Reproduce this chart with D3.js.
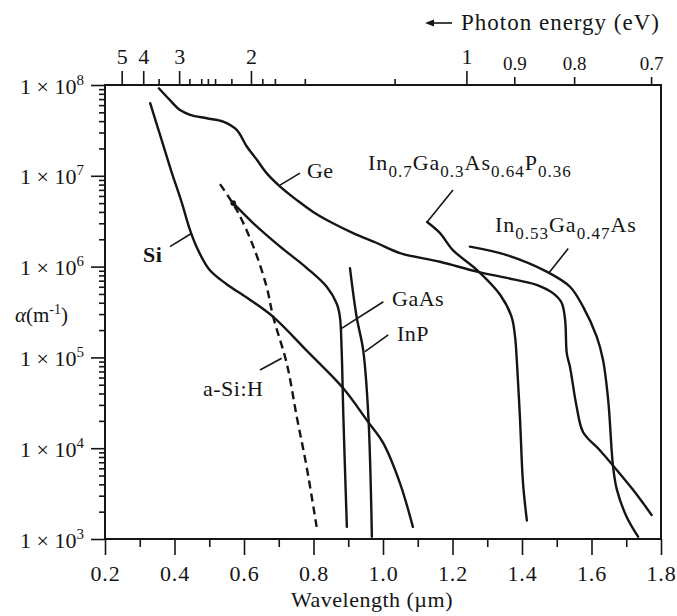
<!DOCTYPE html>
<html><head><meta charset="utf-8">
<script src="https://cdn.jsdelivr.net/npm/d3@7"></script>
<style>
html,body{margin:0;padding:0;background:#fff;}
svg{display:block;}
text{font-family:"Liberation Serif","Times New Roman",serif;fill:#151515;}
</style></head><body>
<svg id="chart" width="677" height="616"></svg>
<script>
// ---------- data ----------
const wavelengthTicks = [0.2,0.4,0.6,0.8,1.0,1.2,1.4,1.6,1.8];
const wavelengthMinorTicks = [0.3,0.5,0.7,0.9,1.1,1.3,1.5,1.7];
const alphaTicks = [1e3,1e4,1e5,1e6,1e7,1e8];
const alphaExponents = [3,4,5,6,7,8];
const energyTicks = [5,4,3,2,1];
const energyTicksSmall = [0.9,0.8,0.7];
const energyMinorTicks = [3.5,2.8,2.6,2.5,2.4,2.2,1.9,1.8,1.6,1.2];

const siLambda = [0.33,0.36,0.39,0.42,0.445,0.465,0.50,0.55,0.61,0.684,0.784,0.885,0.957,1.0,1.049,1.086];
const siAlpha  = [6.3e7,2.7e7,1.15e7,5.2e6,2.5e6,1.6e6,9.3e5,6.4e5,4.5e5,2.8e5,1.15e5,4.6e4,1.95e4,1.15e4,4.1e3,1.36e3];

const geLambda = [0.355,0.387,0.416,0.445,0.493,0.54,0.579,0.608,0.637,0.665,0.704,0.752,0.799,0.856,0.914,0.982,1.049,1.164,1.27,1.356,1.442,1.489,1.514,1.524,1.529,1.538,1.557,1.576,1.624,1.672,1.719,1.773];
const geAlpha  = [9.2e7,6.8e7,5.3e7,4.7e7,4.3e7,3.95e7,3.2e7,2.1e7,1.5e7,1.07e7,7.6e6,5.4e6,4.0e6,3.0e6,2.34e6,1.82e6,1.41e6,1.13e6,8.8e5,7.5e5,6.3e5,5.1e5,4.0e5,2.6e5,1.1e5,7.9e4,2.9e4,1.5e4,9.5e3,5.8e3,3.5e3,1.84e3];

const ingaasLambda = [1.25,1.356,1.471,1.538,1.576,1.615,1.633,1.648,1.662,1.673,1.701,1.734];
const ingaasAlpha  = [1.66e6,1.34e6,8.8e5,6.0e5,3.6e5,1.69e5,9.4e4,3.4e4,6.3e3,3.5e3,1.76e3,1.06e3];

const ingaasPLambda = [1.127,1.164,1.201,1.27,1.337,1.37,1.38,1.385,1.394,1.403,1.414];
const ingaasPAlpha  = [3.1e6,2.34e6,1.52e6,9.2e5,4.9e5,2.8e5,1.69e5,9.4e4,2.2e4,4.1e3,1.6e3];

const gaasLambda = [0.569,0.627,0.704,0.78,0.838,0.867,0.876,0.881,0.886,0.896];
const gaasAlpha  = [5.0e6,3.0e6,1.66e6,9.7e5,6.0e5,3.9e5,2.8e5,1.2e5,2.2e4,1.36e3];

const inpLambda = [0.905,0.924,0.943,0.958,0.968];
const inpAlpha  = [9.6e5,2.8e5,1.2e5,2.2e4,1.06e3];

const asiLambda = [0.531,0.579,0.627,0.665,0.684,0.723,0.752,0.78,0.809];
const asiAlpha  = [8.1e6,4.2e6,1.66e6,6.0e5,2.8e5,8.6e4,2.2e4,6.3e3,1.36e3];

// label text (parts: [text, subscript?]) and anchor/leader points in data units
const labelNames = ["Si","Ge","GaAs","InP","a-Si:H","InGaAsP","InGaAs"];
const labelParts = [
  [["Si",false]],
  [["Ge",false]],
  [["GaAs",false]],
  [["InP",false]],
  [["a-Si:H",false]],
  [["In",false],["0.7",true],["Ga",false],["0.3",true],["As",false],["0.64",true],["P",false],["0.36",true]],
  [["In",false],["0.53",true],["Ga",false],["0.47",true],["As",false]]
];
const labelAnchor = [[0.3094,1.125e6],[0.781,9.5e6],[1.026,3.68e5],[1.040,1.52e5],[0.482,3.76e4],[0.957,1.16e7],[1.322,2.4e6]];
const leaderFrom  = [[0.387,1.66e6],[0.7036,7.9e6],[0.881,2.09e5],[0.948,1.16e5],[0.646,7.26e4],[1.127,3.1e6],[1.476,8.4e5]];
const leaderTo    = [[0.4495,2.33e6],[0.761,1.07e7],[1.001,4.1e5],[1.015,1.77e5],[0.7085,9.8e4],[1.2014,6.98e6],[1.533,1.58e6]];

// ---------- chart ----------
const svg = d3.select("#chart");
const x = d3.scaleLinear().domain([0.2,1.8]).range([105,661]);
const y = d3.scaleLog().domain([1e3,1e8]).range([539,85]);
const HC = 1.24; // eV·µm
const eToL = e => HC / e;
const ink = "#151515";

function styleAxis(g, fs){
  g.select(".domain").remove();
  g.selectAll(".tick line").attr("stroke", ink).attr("stroke-width", 1.6);
  g.selectAll(".tick text").attr("fill", ink).style("font-size", fs + "px")
    .style("font-family", '"Liberation Serif","Times New Roman",serif');
}

// bottom axis
svg.append("g").attr("transform","translate(0,539)")
  .call(d3.axisBottom(x).tickValues(wavelengthMinorTicks).tickSize(8).tickFormat(""))
  .call(g => styleAxis(g, 22));
svg.append("g").attr("transform","translate(0,539)")
  .call(d3.axisBottom(x).tickValues(wavelengthTicks).tickSize(16).tickPadding(10).tickFormat(d3.format(".1f")))
  .call(g => styleAxis(g, 22))
  .call(g => g.selectAll(".tick text").style("letter-spacing","0.8px"));

// left axis
const alphaMinor = [];
for (let k = 3; k < 8; k++) for (let m = 2; m <= 9; m++) alphaMinor.push(m * Math.pow(10, k));
svg.append("g").attr("transform","translate(105,0)")
  .call(d3.axisLeft(y).tickValues(alphaMinor).tickSize(6).tickFormat(""))
  .call(g => styleAxis(g, 21));
const leftMajor = svg.append("g").attr("transform","translate(105,0)")
  .call(d3.axisLeft(y).tickValues(alphaTicks).tickSize(14).tickFormat(""))
  .call(g => styleAxis(g, 21));
leftMajor.selectAll(".tick").each(function(d, i){
  const t = d3.select(this).append("text")
    .attr("x", -21).attr("y", 8).attr("text-anchor","end")
    .attr("fill", ink).style("font-size","22px");
  t.append("tspan").text("1 × 10");
  t.append("tspan").attr("dy", -9).style("font-size","15px").text(alphaExponents[i]);
});

// top axis (photon energy)
svg.append("g").attr("transform","translate(0,85)")
  .call(d3.axisTop(x).tickValues(energyMinorTicks.map(eToL)).tickSize(6).tickFormat(""))
  .call(g => styleAxis(g, 21));
svg.append("g").attr("transform","translate(0,85)")
  .call(d3.axisTop(x).tickValues(energyTicksSmall.map(eToL)).tickSize(8).tickPadding(7)
        .tickFormat((d,i) => energyTicksSmall[i]))
  .call(g => styleAxis(g, 19));
svg.append("g").attr("transform","translate(0,85)")
  .call(d3.axisTop(x).tickValues(energyTicks.map(eToL)).tickSize(14).tickPadding(7)
        .tickFormat((d,i) => energyTicks[i]))
  .call(g => styleAxis(g, 22));

// frame
svg.append("rect").attr("x", x(0.2)).attr("y", y(1e8))
  .attr("width", x(1.8) - x(0.2)).attr("height", y(1e3) - y(1e8))
  .attr("fill","none").attr("stroke", ink).attr("stroke-width", 2);

// curves
const line = d3.line().x(d => x(d[0])).y(d => y(d[1])).curve(d3.curveCatmullRom.alpha(0.5));
const series = [
  [siLambda, siAlpha, null],
  [geLambda, geAlpha, null],
  [ingaasLambda, ingaasAlpha, null],
  [ingaasPLambda, ingaasPAlpha, null],
  [gaasLambda, gaasAlpha, null],
  [inpLambda, inpAlpha, null],
  [asiLambda, asiAlpha, "8,5"]
];
series.forEach(([lx, ly, dash]) => {
  const pts = lx.map((l, i) => [l, ly[i]]);
  svg.append("path").datum(pts).attr("d", line)
    .attr("fill","none").attr("stroke", ink).attr("stroke-width", 2.4)
    .attr("stroke-linecap", dash ? "butt" : "round")
    .attr("stroke-dasharray", dash);
});
// GaAs start dot
svg.append("circle").attr("cx", x(gaasLambda[0])).attr("cy", y(gaasAlpha[0]))
  .attr("r", 2.8).attr("fill", ink);

// leaders and labels
labelNames.forEach((name, i) => {
  svg.append("line")
    .attr("x1", x(leaderFrom[i][0])).attr("y1", y(leaderFrom[i][1]))
    .attr("x2", x(leaderTo[i][0])).attr("y2", y(leaderTo[i][1]))
    .attr("stroke", ink).attr("stroke-width", 1.6);
  const t = svg.append("text")
    .attr("x", x(labelAnchor[i][0])).attr("y", y(labelAnchor[i][1]))
    .style("font-size", "22px").style("letter-spacing", i >= 5 ? "1px" : "0.5px")
    .style("font-weight", name === "Si" ? "bold" : "normal");
  let shifted = false;
  labelParts[i].forEach(([txt, sub]) => {
    const s = t.append("tspan").text(txt);
    if (sub && !shifted) { s.attr("dy", 7).style("font-size","17px"); shifted = true; }
    else if (sub) { s.style("font-size","17px"); }
    else if (!sub && shifted) { s.attr("dy", -7); shifted = false; }
  });
});

// axis titles
svg.append("text").attr("x", 372).attr("y", 607).attr("text-anchor","middle")
  .style("font-size","22px").style("letter-spacing","0.5px").text("Wavelength (µm)");

const yl = svg.append("text").attr("x", 15).attr("y", 322).style("font-size","21px");
yl.append("tspan").style("font-style","italic").text("α");
yl.append("tspan").text("(m");
yl.append("tspan").attr("dy", -8).style("font-size","14px").text("-1");
yl.append("tspan").attr("dy", 8).text(")");

// photon energy title with arrow
svg.append("text").attr("x", 660).attr("y", 30).attr("text-anchor","end")
  .style("font-size","23px").style("letter-spacing","1px").text("Photon energy (eV)");
svg.append("line").attr("x1", 430).attr("y1", 23).attr("x2", 452).attr("y2", 23)
  .attr("stroke", ink).attr("stroke-width", 1.6);
svg.append("path").attr("d", "M425,23 L434,19.5 L434,26.5 Z").attr("fill", ink);
</script>
</body></html>
